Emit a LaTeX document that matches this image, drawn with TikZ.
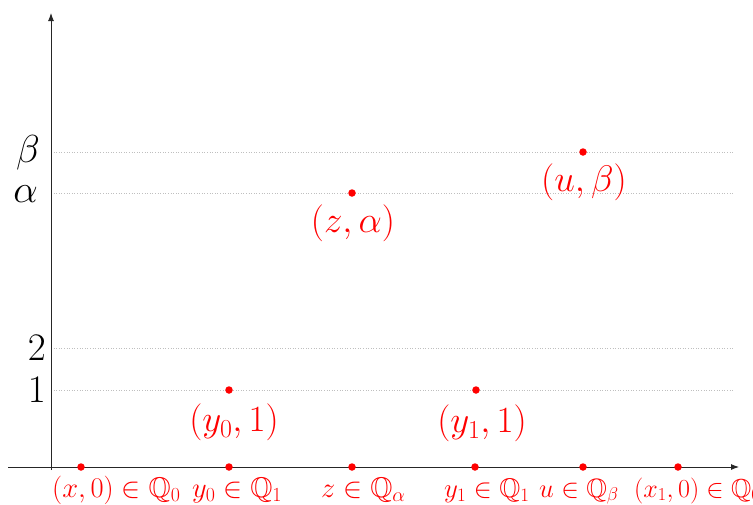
\RequirePackage{fix-cm}
\documentclass[tikz,border=0pt]{standalone}
\usepackage{amssymb}
\usetikzlibrary{arrows.meta}
\tikzset{
  dot/.style={circle,fill=red,draw=none,inner sep=0pt,minimum size=7.5pt},
  biglab/.style={text=red,inner sep=0pt,anchor=north,font=\fontsize{37}{41}\selectfont},
  botlab/.style={text=red,inner sep=0pt,anchor=base west,font=\fontsize{28.5}{32}\selectfont},
  axlab/.style={inner sep=0pt,anchor=east,font=\fontsize{39}{43}\selectfont},
  gridline/.style={dotted,draw=black!25,line width=0.6pt},
  axis/.style={draw=black!85,line width=0.9pt,-{Latex[length=8pt,width=6pt]}}
}
\begin{document}
\begin{tikzpicture}[x=1pt,y=-1pt]
\useasboundingbox (0,0) rectangle (753,504);
% grid lines
\foreach \yy/\nm in {152/b,193/a,348/two,390/one}{
  \coordinate (gl\nm) at (51,\yy);
  \coordinate (gr\nm) at (733,\yy);
  \draw[gridline] (gl\nm) -- (gr\nm);
}
% axes
\coordinate (xs) at (8,467);
\coordinate (xe) at (739,467);
\coordinate (ys) at (51,470);
\coordinate (ye) at (51,13);
\draw[axis] (xs) -- (xe);
\draw[axis] (ys) -- (ye);
% axis labels
\node[axlab] (lb) at (40,153) {$\beta$};
\node[axlab] (la) at (38,194) {$\alpha$};
\node[axlab] (l2) at (46,348) {$2$};
\node[axlab] (l1) at (46,390) {$1$};
% points on x axis
\node[dot] (px0) at (81,467) {};
\node[dot] (py0) at (229,467) {};
\node[dot] (pz) at (352,467) {};
\node[dot] (py1) at (475,467) {};
\node[dot] (pu) at (583,467) {};
\node[dot] (px1) at (678,467) {};
% raised points
\node[dot] (qy0) at (229,390) {};
\node[dot] (qy1) at (476,390) {};
\node[dot] (qz) at (352,193) {};
\node[dot] (qu) at (583,152) {};
% big labels
\node[biglab] (ty0) at (234,404) {$(y_0,1)$};
\node[biglab] (ty1) at (482,405) {$(y_1,1)$};
\node[biglab] (tz) at (353,205) {$(z,\alpha)$};
\node[biglab] (tu) at (584,164) {$(u,\beta)$};
% bottom labels
\node[botlab] (bx0) at (52,497) {$(x,0)\in\mathbb{Q}_0$};
\node[botlab] (by0) at (192,497) {$y_0\in\mathbb{Q}_1$};
\node[botlab] (bz) at (321,497) {$z\in\mathbb{Q}_\alpha$};
\node[botlab,font=\fontsize{27}{30}\selectfont] (by1) at (444,497) {$y_1\in\mathbb{Q}_1$};
\node[botlab,font=\fontsize{26.5}{30}\selectfont] (bu) at (539,497) {$u\in\mathbb{Q}_\beta$};
\node[botlab,font=\fontsize{26}{30}\selectfont] (bx1) at (634,497) {$(x_1,0)\in\mathbb{Q}_0$};
\end{tikzpicture}
\end{document}
